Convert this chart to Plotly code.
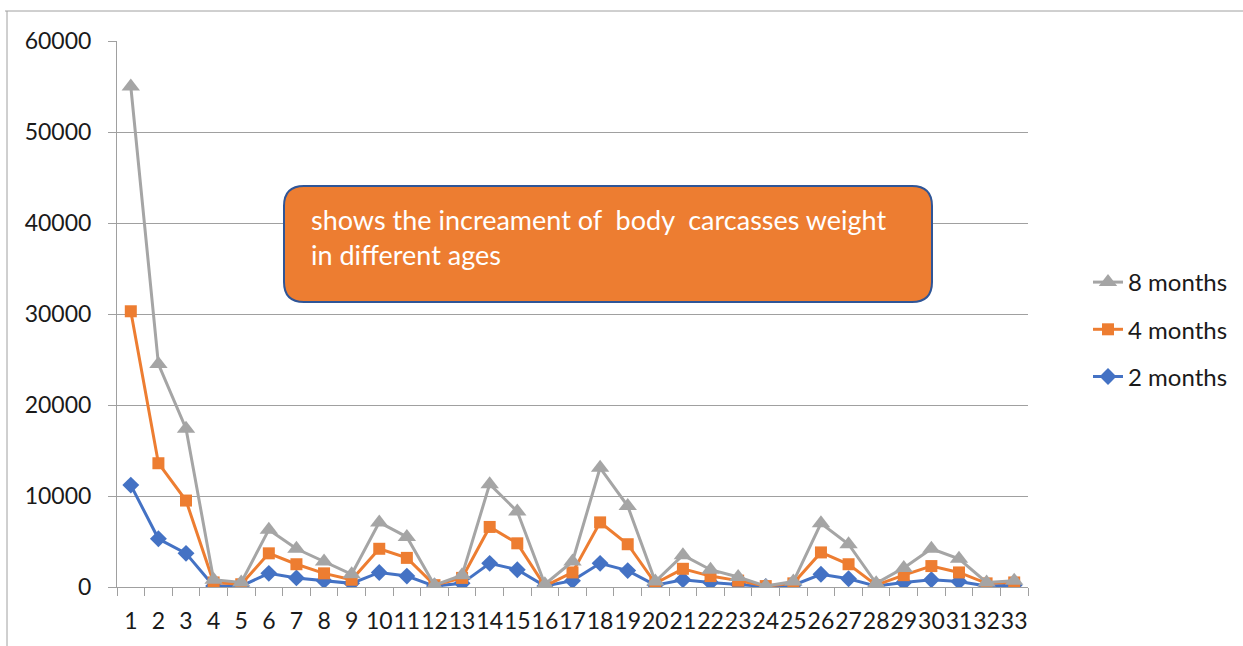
import plotly.graph_objects as go

categories = [str(i) for i in range(1, 34)]
months_2 = [11200, 5300, 3700, 100, 100, 1500, 1000, 700, 400, 1600, 1200, 100, 400,
            2600, 1900, 100, 700, 2600, 1800, 200, 800, 500, 300, 50, 200, 1400, 900,
            100, 500, 800, 600, 100, 200]
months_4 = [30300, 13600, 9500, 500, 300, 3700, 2500, 1500, 800, 4200, 3200, 200, 1000,
            6600, 4800, 100, 1600, 7100, 4700, 400, 2000, 1200, 700, 100, 400, 3800, 2500,
            200, 1300, 2300, 1600, 400, 500]
months_8 = [55000, 24500, 17400, 800, 500, 6300, 4200, 2800, 1400, 7100, 5500, 200, 1300,
            11300, 8300, 300, 2800, 13100, 8900, 600, 3500, 1900, 1100, 100, 600, 7000, 4700,
            400, 2100, 4200, 3100, 500, 700]
series_names = ["2 months", "4 months", "8 months"]
annotation_text = "shows the increament of  body  carcasses weight<br>in different ages"

W, H = 1243, 646
L, R, T, B = 117, 1028, 41, 587  # plot area in pixels


def px(x):
    return (x - L) / (R - L)


def py(y):
    return (B - y) / (B - T)


FONT = "Lato"
fig = go.Figure()
styles = [
    dict(color="#4472C4", symbol="diamond", size=13, rank=3),
    dict(color="#ED7D31", symbol="square", size=12, rank=2),
    dict(color="#A5A5A5", symbol="triangle-up", size=16, rank=1),
]
for name, vals, st in zip(series_names, [months_2, months_4, months_8], styles):
    fig.add_trace(go.Scatter(
        x=categories, y=vals, name=name, mode="lines+markers",
        legendgroup=name, legendrank=st["rank"],
        line=dict(color=st["color"], width=3),
        marker=dict(color=st["color"], symbol=st["symbol"], size=st["size"],
                    line=dict(width=0)),
    ))

# rounded rectangle
x0, x1, y0, y1, r = 284, 932, 186, 302, 20
X0, X1 = px(x0), px(x1)
Y0, Y1 = py(y0), py(y1)
rx, ry = r / (R - L), r / (B - T)
path = (f"M {X0+rx},{Y0} L {X1-rx},{Y0} Q {X1},{Y0} {X1},{Y0-ry} "
        f"L {X1},{Y1+ry} Q {X1},{Y1} {X1-rx},{Y1} L {X0+rx},{Y1} "
        f"Q {X0},{Y1} {X0},{Y1+ry} L {X0},{Y0-ry} Q {X0},{Y0} {X0+rx},{Y0} Z")
shapes = [
    dict(type="path", xref="paper", yref="paper", path=path,
         fillcolor="#ED7D31", line=dict(color="#2F5597", width=2), layer="above"),
    dict(type="line", xref="paper", yref="paper", x0=px(5), x1=px(W + 5), y0=py(11), y1=py(11),
         line=dict(color="#A0A0A0", width=1)),
    dict(type="line", xref="paper", yref="paper", x0=px(7), x1=px(7), y0=py(11), y1=py(H + 5),
         line=dict(color="#A0A0A0", width=1)),
]

fig.update_layout(
    width=W, height=H,
    margin=dict(l=L, r=W - R, t=T, b=H - B, autoexpand=False),
    paper_bgcolor="white", plot_bgcolor="white",
    font=dict(family=FONT, size=23, color="#1a1a1a"),
    shapes=shapes,
    annotations=[dict(
        text=annotation_text, xref="paper", yref="paper",
        x=px(309), y=py(237), xanchor="left", yanchor="middle", align="left",
        showarrow=False, font=dict(family=FONT, size=27, color="white"),
    )],
    legend=dict(
        x=px(1088), y=py(260), xanchor="left", yanchor="top",
        tracegroupgap=13,
        font=dict(family=FONT, size=24, color="#1a1a1a"),
        bgcolor="rgba(0,0,0,0)",
    ),
    xaxis=dict(
        type="category", tickson="boundaries", ticks="outside", ticklen=8,
        tickmode="array", tickvals=categories, ticktext=categories, tickangle=0,
        range=[-0.5, len(categories) - 0.5],
        tickcolor="#A0A0A0", showgrid=False, showline=True, linecolor="#A0A0A0",
        linewidth=1, ticklabelstandoff=13, tickfont=dict(family=FONT, size=23),
        zeroline=False, automargin=False,
    ),
    yaxis=dict(
        range=[0, 60000], dtick=10000, tickformat="d", ticks="outside", ticklen=8,
        tickcolor="#A0A0A0", showgrid=True, gridcolor="#A0A0A0", gridwidth=1,
        showline=True, linecolor="#A0A0A0", linewidth=1, zeroline=False,
        ticklabelstandoff=12, tickfont=dict(family=FONT, size=23), automargin=False,
    ),
)

fig.write_html("out.html", post_script="document.body.style.margin='0px';",
               config={"displayModeBar": False})
